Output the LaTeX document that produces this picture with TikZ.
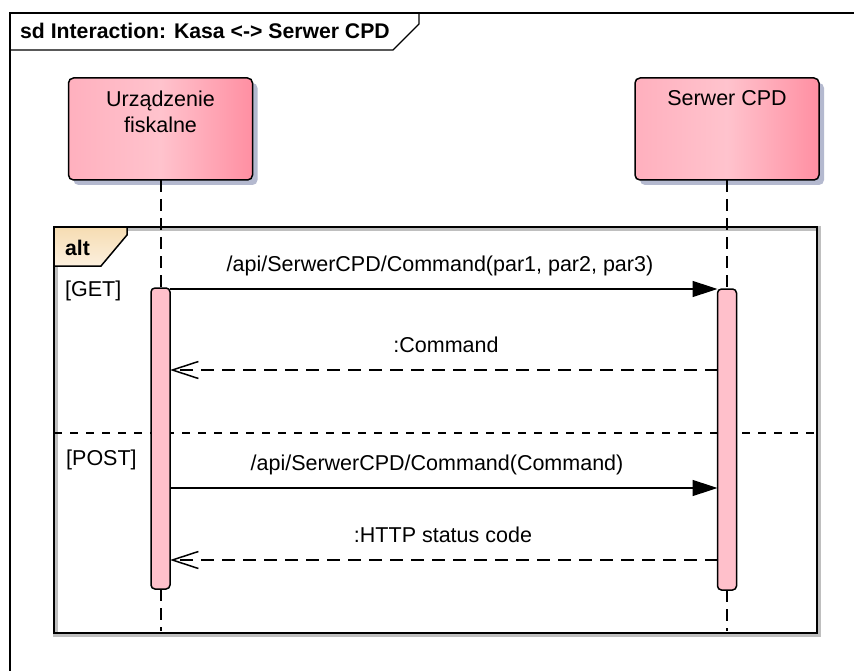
\documentclass[tikz,border=0pt]{standalone}
\usepackage{fontspec}
\setmainfont{Liberation Sans}
\usetikzlibrary{arrows.meta,shadows}
\definecolor{headL}{HTML}{FFB0BE}
\definecolor{headM}{HTML}{FFC3CD}
\definecolor{headR}{HTML}{FF8FA2}
\definecolor{headSh}{HTML}{B4B9CF}
\definecolor{barC}{HTML}{FFC0CB}
\definecolor{altT}{HTML}{F6DCB2}
\definecolor{altB}{HTML}{FCF0DE}
\tikzset{
  txt/.style={font=\fontsize{21.5}{25}\selectfont, inner sep=0pt, anchor=base},
  txtb/.style={font=\fontsize{21.2}{25}\selectfont\bfseries, inner sep=0pt, anchor=base},
  headbox/.style={draw=black, line width=1.5pt, rounded corners=5pt, minimum width=184pt, minimum height=102pt, inner sep=0pt, outer sep=0pt, left color=headL, right color=headR, middle color=headM, drop shadow={shadow xshift=5pt, shadow yshift=-5pt, fill=headSh, opacity=1}},
  actbar/.style={draw=black, line width=1.5pt, fill=barC, rounded corners=4pt, minimum width=19pt, minimum height=301pt, inner sep=0pt, outer sep=0pt},
  lifeline/.style={line width=2pt, dash pattern=on 12pt off 7pt},
  callmsg/.style={line width=1.5pt, -{Triangle[length=25pt,width=16pt]}},
  replymsg/.style={line width=1.5pt, dash pattern=on 13pt off 8pt, -{Straight Barb[length=26pt,width=17pt,line width=1.5pt]}},
}
\begin{document}
\begin{tikzpicture}[x=1pt, y=-1pt]
\useasboundingbox (0,0) rectangle (854,671);
\clip (0,0) rectangle (854,671);
\fill[white] (0,0) rectangle (854,671);
% outer frame
\draw[line width=1.8pt] (10,690) -- (10,13) -- (870,13);
\draw[line width=1.3pt] (10,50) -- (393,50) -- (419,24) -- (419,13);
\node[txtb, anchor=base west] (title) at (20,39) {sd Interaction: Kasa <-> Serwer CPD};
% lifeline heads
\node[headbox] (head1) at (160.5,129) {};
\node[headbox] (head2) at (727,129) {};
\node[txt] (h1a) at (160.5,107) {Urządzenie};
\node[txt] (h1b) at (160.5,133) {fiskalne};
\node[txt] (h2a) at (727,106) {Serwer CPD};
% alt fragment
\draw[black!25, line width=4.5pt] (55.5,228.5) rectangle (818.5,634.5);
\shade[top color=altT, bottom color=altB] (54,227) -- (127,227) -- (127,235) -- (101,266) -- (54,266) -- cycle;
\draw[line width=2.5pt] (54,227) rectangle (817,633);
\draw[line width=1.5pt] (54,266) -- (101,266) -- (127,235) -- (127,227);
\node[txtb, anchor=base west] (alt) at (65,255) {alt};
\node[txt, anchor=base west] (g1) at (65,296) {[GET]};
\node[txt, anchor=base west] (g2) at (66,465) {[POST]};
\coordinate (dl) at (54,433);
\coordinate (dr) at (817,433);
\draw[line width=1.5pt, dash pattern=on 8pt off 8pt] (dl) -- (dr);
% activations
\node[actbar] (bar1) at (160.5,438.5) {};
\node[actbar] (bar2) at (727,439.5) {};
\coordinate (end1) at (160.5,631);
\coordinate (end2) at (727,631);
\draw[lifeline] (head1.south) -- (bar1.north);
\draw[lifeline] (bar1.south) -- (end1);
\draw[lifeline] (head2.south) -- (bar2.north);
\draw[lifeline] (bar2.south) -- (end2);
% messages
\coordinate (y1) at (0,289);
\coordinate (y2) at (0,370);
\coordinate (y3) at (0,488);
\coordinate (y4) at (0,560);
\draw[callmsg] (bar1.east |- y1) -- (bar2.west |- y1);
\draw[replymsg] (bar2.west |- y2) -- (bar1.east |- y2);
\draw[callmsg] (bar1.east |- y3) -- (bar2.west |- y3);
\draw[replymsg] (bar2.west |- y4) -- (bar1.east |- y4);
\node[txt] (l1) at (440,271) {/api/SerwerCPD/Command(par1, par2, par3)};
\node[txt] (l2) at (446,352) {:Command};
\node[txt] (l3) at (437,470) {/api/SerwerCPD/Command(Command)};
\node[txt] (l4) at (443,542) {:HTTP status code};
\end{tikzpicture}
\end{document}
